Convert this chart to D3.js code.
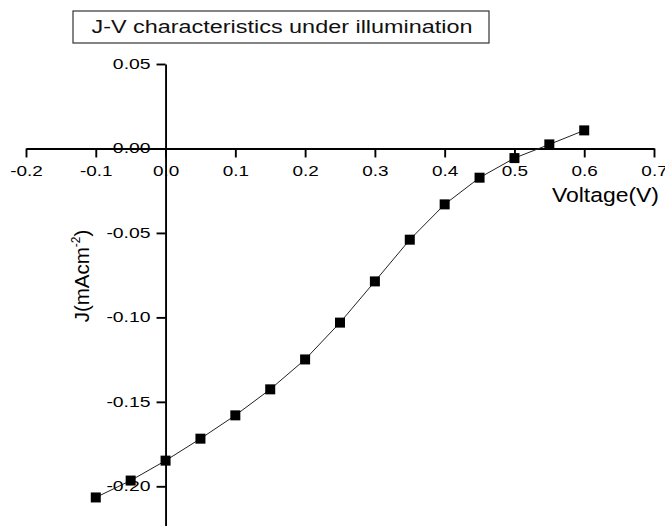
<!DOCTYPE html>
<html>
<head>
<meta charset="utf-8">
<script src="https://cdn.jsdelivr.net/npm/d3@7"></script>
<style>
  body { margin: 0; background: #fff; }
  svg { display: block; font-family: "Liberation Sans", Arial, Helvetica, sans-serif; }
</style>
</head>
<body>
<div id="chart"></div>
<script>
// J-V data
var voltage = [-0.10, -0.05, 0.00, 0.05, 0.10, 0.15, 0.20, 0.25, 0.30, 0.35, 0.40, 0.45, 0.50, 0.55, 0.60]
var current = [-0.2066, -0.1966, -0.1848, -0.1718, -0.1580, -0.1426, -0.1249, -0.1031, -0.0787, -0.0540, -0.0331, -0.0173, -0.0057, 0.0024, 0.0107]

var xTicks = [-0.2, -0.1, 0.0, 0.1, 0.2, 0.3, 0.4, 0.5, 0.6, 0.7]
var xTickLabels = ['-0.2', '-0.1', '0.0', '0.1', '0.2', '0.3', '0.4', '0.5', '0.6', '0.7']
var xMinor = [-0.15, -0.05, 0.05, 0.15, 0.25, 0.35, 0.45, 0.55, 0.65]
var yTicks = [0.05, 0.00, -0.05, -0.10, -0.15, -0.20]
var yTickLabels = ['0.05', '0.00', '-0.05', '-0.10', '-0.15', '-0.20']
var yMinor = [0.025, -0.025, -0.075, -0.125, -0.175]

var width = 665, height = 526
var svg = d3.select('#chart').append('svg').attr('width', width).attr('height', height)

var x = d3.scaleLinear().domain([-0.2, 0.7]).range([26, 654])
var y = d3.scaleLinear().domain([0.05, -0.2235]).range([64, 526])

// stretch text horizontally like the original export
function stretch(sel, f) {
    sel.each(function() {
        var len = this.getComputedTextLength()
        d3.select(this).attr('textLength', len * f).attr('lengthAdjust', 'spacingAndGlyphs')
    })
}

// title box
svg.append('rect')
    .attr('x', 73).attr('y', 11)
    .attr('width', 416).attr('height', 32)
    .attr('fill', 'none').attr('stroke', '#333').attr('stroke-width', 1.2)
svg.append('text')
    .attr('x', 282).attr('y', 33.3)
    .attr('text-anchor', 'middle')
    .attr('font-size', 17.5)
    .attr('fill', '#111')
    .attr('textLength', 381).attr('lengthAdjust', 'spacingAndGlyphs')
    .text('J-V characteristics under illumination')

// x axis (through y = 0)
var gx = svg.append('g').attr('transform', 'translate(0,' + y(0) + ')')
gx.call(d3.axisBottom(x).tickValues(xMinor).tickSize(5).tickSizeOuter(0).tickFormat(''))
gx.call(d3.axisBottom(x).tickValues(xTicks).tickSize(9).tickSizeOuter(0)
    .tickFormat(function(d, i) { return xTickLabels[i] }))
gx.selectAll('path, line').attr('stroke', '#000').attr('stroke-width', 1.9)
gx.selectAll('text').attr('font-size', 15.5).attr('fill', '#000').attr('y', 17).attr('dy', '0.71em')
gx.attr('font-family', null)
stretch(gx.selectAll('text'), 1.22)

// y axis (through x = 0)
var gy = svg.append('g').attr('transform', 'translate(' + x(0) + ',0)')
gy.call(d3.axisLeft(y).tickValues(yMinor).tickSize(6).tickSizeOuter(0).tickFormat(''))
gy.call(d3.axisLeft(y).tickValues(yTicks).tickSize(9).tickSizeOuter(0)
    .tickFormat(function(d, i) { return yTickLabels[i] }))
gy.selectAll('path, line').attr('stroke', '#000').attr('stroke-width', 1.9)
gy.selectAll('text').attr('font-size', 15.5).attr('fill', '#000').attr('x', -15).attr('dy', '0.28em')
gy.attr('font-family', null)
stretch(gy.selectAll('text'), 1.25)

// axis titles
svg.append('text')
    .attr('x', 659).attr('y', 202)
    .attr('text-anchor', 'end')
    .attr('font-size', 20.5)
    .attr('fill', '#000')
    .attr('textLength', 107).attr('lengthAdjust', 'spacingAndGlyphs')
    .text('Voltage(V)')

var yl = svg.append('text')
    .attr('transform', 'translate(89,276) rotate(-90)')
    .attr('text-anchor', 'middle')
    .attr('font-size', 20.5)
    .attr('fill', '#000')
yl.append('tspan').text('J(mAcm')
yl.append('tspan').attr('font-size', 12).attr('dy', -9).text('-2')
yl.append('tspan').attr('dy', 9).text(')')

// data line and markers
var pts = voltage.map(function(v, i) { return [v, current[i]] })
var line = d3.line().x(function(d) { return x(d[0]) }).y(function(d) { return y(d[1]) })
svg.append('path')
    .datum(pts)
    .attr('d', line)
    .attr('fill', 'none')
    .attr('stroke', '#222')
    .attr('stroke-width', 1)
svg.selectAll('rect.pt')
    .data(pts)
    .enter()
    .append('rect')
    .attr('class', 'pt')
    .attr('x', function(d) { return x(d[0]) - 5 })
    .attr('y', function(d) { return y(d[1]) - 5 })
    .attr('width', 10).attr('height', 10)
    .attr('fill', '#000')
</script>
</body>
</html>
